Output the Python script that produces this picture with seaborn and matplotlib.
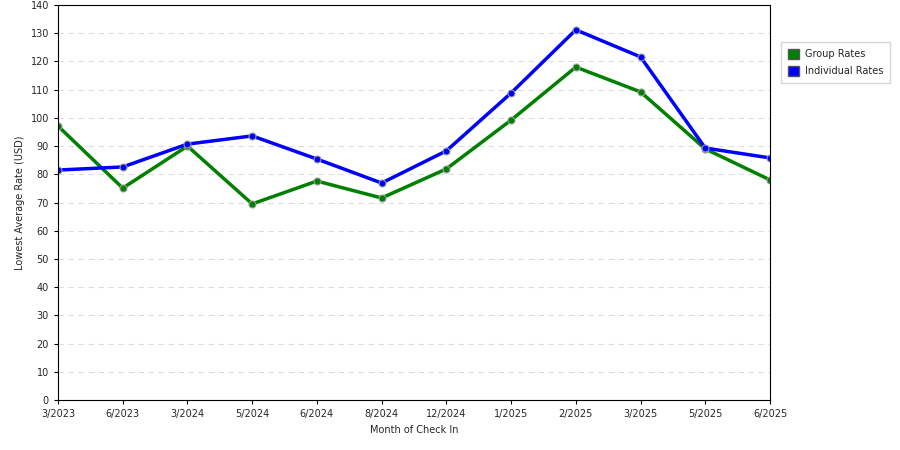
import matplotlib
matplotlib.use("Agg")
import matplotlib.pyplot as plt
import seaborn as sns
import pandas as pd
from matplotlib.patches import Patch

months = ["3/2023","6/2023","3/2024","5/2024","6/2024","8/2024","12/2024","1/2025","2/2025","3/2025","5/2025","6/2025"]
group_rates = [97.1,75.1,90.0,69.5,77.6,71.6,81.9,99.2,118.0,109.2,89.0,78.0]
individual_rates = [81.5,82.6,90.7,93.6,85.4,76.9,88.3,108.8,131.2,121.6,89.3,85.8]

sns.set_style("white")
plt.rcParams['font.family'] = ['DejaVu Sans']
fig = plt.figure(figsize=(9, 4.5), dpi=100)
ax = fig.add_axes([58/900, 50/450, 712/900, 395/450])

df = pd.DataFrame({"x": list(range(len(months)))*2,
                   "rate": group_rates + individual_rates,
                   "series": ["Group Rates"]*12 + ["Individual Rates"]*12})
pal = {"Group Rates": "#008000", "Individual Rates": "#0000ff"}
sns.lineplot(data=df, x="x", y="rate", hue="series", palette=pal, ax=ax,
             linewidth=2.5, marker="o", markersize=5, markeredgecolor="#999999",
             markeredgewidth=0.8, legend=False)

ax.set_xlim(0, len(months)-1)
ax.set_ylim(0, 140)
ax.set_yticks(range(0, 141, 10))
ax.set_xticks(range(len(months)))
ax.set_xticklabels(months)
ax.tick_params(labelsize=7, length=3, direction="out", color="black")
ax.tick_params(left=True, bottom=True)
ax.yaxis.grid(True, linestyle=(0, (5, 4)), color="#dddddd", linewidth=0.8)
for s in ax.spines.values():
    s.set_color("black"); s.set_linewidth(0.8)
ax.set_xlabel("Month of Check In", fontsize=7)
ax.set_ylabel("Lowest Average Rate (USD)", fontsize=7)

handles = [Patch(facecolor="#008000", edgecolor="#555555", label="Group Rates"),
           Patch(facecolor="#0000ff", edgecolor="#555555", label="Individual Rates")]
fig.legend(handles=handles, loc="upper left", bbox_to_anchor=(776/900, 1-37/450),
           fontsize=7, frameon=True, fancybox=False, edgecolor="#cccccc",
           handlelength=1.2, handleheight=1.2, borderpad=0.7, labelspacing=0.7,
           handletextpad=0.6)
fig.savefig("out.png", dpi=100)
